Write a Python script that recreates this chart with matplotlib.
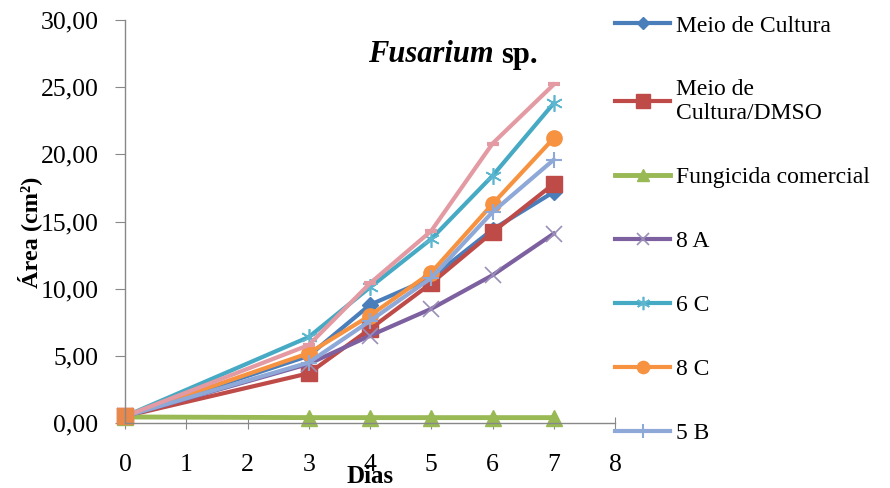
import matplotlib
matplotlib.use("Agg")
import matplotlib.pyplot as plt
from matplotlib.ticker import FuncFormatter

plt.rcParams['font.family'] = ['Liberation Serif', 'DejaVu Serif']

days = [0, 3, 4, 5, 6, 7]
meio_cultura = [0.5, 5.0, 8.8, 10.8, 14.4, 17.2]
meio_dmso = [0.5, 3.7, 7.0, 10.4, 14.2, 17.8]
fungicida = [0.45, 0.4, 0.4, 0.4, 0.4, 0.4]
s_8a = [0.5, 4.4, 6.5, 8.5, 11.0, 14.1]
s_6c = [0.5, 6.4, 10.1, 13.7, 18.4, 23.8]
s_8c = [0.5, 5.2, 8.0, 11.2, 16.3, 21.2]
s_5b = [0.5, 4.5, 7.6, 10.8, 15.7, 19.6]
s_pink = [0.5, 5.8, 10.4, 14.3, 20.8, 25.2]

labels = ["Meio de Cultura", "Meio de\nCultura/DMSO", "Fungicida comercial",
          "8 A", "6 C", "8 C", "5 B"]
yticks = [0, 5, 10, 15, 20, 25, 30]
xticks = [0, 1, 2, 3, 4, 5, 6, 7, 8]

fig = plt.figure(figsize=(8.9, 4.88), dpi=100)
ax = fig.add_axes([125/890, 1-423/488, 490/890, 403/488])

lw = 3.0
ax.plot(days, meio_cultura, color='#4A7EBB', lw=lw, marker='D', ms=8, label=labels[0])
ax.plot(days, meio_dmso, color='#BE4B48', lw=lw, marker='s', ms=12, label=labels[1])
ax.plot(days, fungicida, color='#98B954', lw=3.5, marker='^', ms=11, label=labels[2])
ax.plot(days, s_8a, color='#7D60A0', lw=lw, marker='x', ms=11, mew=1.2, mec='#9A8FB8', label=labels[3])
ax.plot(days, s_6c, color='#46AAC5', lw=lw, marker=(6, 2, 0), ms=12, mew=1.2, mec='#5DB6CF', label=labels[4])
ax.plot(days, s_8c, color='#F69240', lw=lw, marker='o', ms=11, label=labels[5])
ax.plot(days, s_5b, color='#8EA8D8', lw=lw, marker='+', ms=12, mew=1.5, label=labels[6])
ax.plot(days, s_pink, color='#E39AA2', lw=lw, marker='_', ms=8, mew=3, label='_nolegend_')
# day-0 orange square sits on top
ax.plot(days[:1], s_8c[:1], color='#E8884A', marker='s', ms=12, ls='none')

ax.set_xlim(0, 8)
ax.set_ylim(0, 30)
ax.set_xticks(xticks)
ax.set_yticks(yticks)
ax.yaxis.set_major_formatter(FuncFormatter(lambda v, p: f"{v:.2f}".replace('.', ',')))
ax.xaxis.set_major_formatter(FuncFormatter(lambda v, p: f"{int(v)}"))
for s in ['top', 'right']:
    ax.spines[s].set_visible(False)
for s in ['left', 'bottom']:
    ax.spines[s].set_color('#888888')
    ax.spines[s].set_linewidth(1.0)
ax.tick_params(axis='y', direction='out', length=7, color='#888888', pad=12, labelsize=18.5)
ax.tick_params(axis='x', direction='inout', length=9, color='#888888', pad=18, labelsize=18.5)
for ln in ax.lines:
    ln.set_clip_on(False)

fig.text(30/890, 1-232/488, "Área (cm²)", rotation=90, ha='center', va='center',
         fontsize=17.5, fontweight='bold')
fig.text(370/890, 1-465/488, "Dias", ha='center', va='top', fontsize=18, fontweight='bold')
fig.text(494/890, 1-55/488, "Fusarium", ha='right', va='center', fontsize=22,
         style='italic', fontweight='bold')
fig.text(501/890, 1-55/488, "sp.", ha='left', va='center', fontsize=22, fontweight='bold')

leg = fig.legend(loc='upper left', bbox_to_anchor=(615/890, 1-15/488), frameon=False,
                 fontsize=17, handlelength=2.35, handletextpad=0.25, labelspacing=1.8,
                 borderaxespad=0, borderpad=0, markerscale=0.8)

fig.savefig("out.png", dpi=100)
